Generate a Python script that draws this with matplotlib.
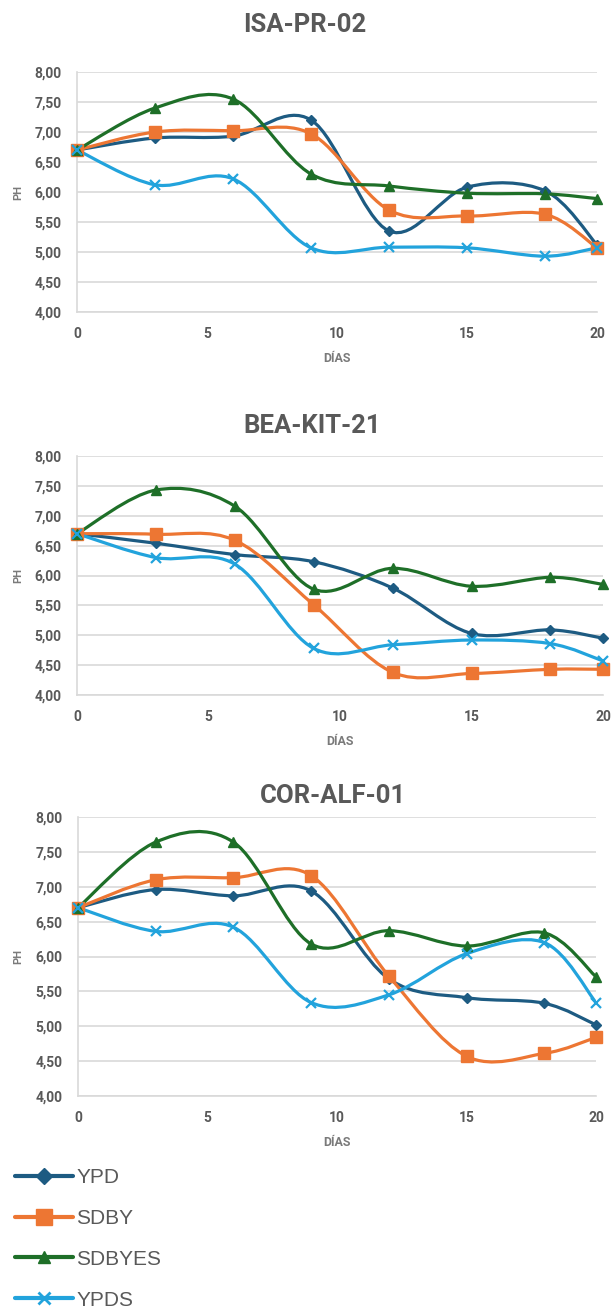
import matplotlib.pyplot as plt
from matplotlib.lines import Line2D
from matplotlib.patches import PathPatch
from matplotlib.path import Path

days = [0, 3, 6, 9, 12, 15, 18, 20]
series_names = ["YPD", "SDBY", "SDBYES", "YPDS"]

isa_ypd = [6.70, 6.90, 6.93, 7.20, 5.35, 6.08, 6.02, 5.12]
isa_sdby = [6.70, 7.00, 7.02, 6.97, 5.70, 5.60, 5.63, 5.07]
isa_sdbyes = [6.70, 7.40, 7.55, 6.30, 6.10, 5.98, 5.97, 5.89]
isa_ypds = [6.70, 6.12, 6.22, 5.07, 5.08, 5.07, 4.93, 5.07]

bea_ypd = [6.70, 6.54, 6.35, 6.23, 5.79, 5.03, 5.09, 4.95]
bea_sdby = [6.70, 6.69, 6.59, 5.51, 4.38, 4.36, 4.43, 4.43]
bea_sdbyes = [6.70, 7.43, 7.16, 5.77, 6.12, 5.82, 5.97, 5.85]
bea_ypds = [6.70, 6.30, 6.19, 4.78, 4.84, 4.92, 4.86, 4.57]

cor_ypd = [6.70, 6.96, 6.87, 6.94, 5.68, 5.41, 5.33, 5.02]
cor_sdby = [6.70, 7.10, 7.13, 7.16, 5.72, 4.57, 4.61, 4.84]
cor_sdbyes = [6.70, 7.64, 7.64, 6.18, 6.37, 6.15, 6.34, 5.71]
cor_ypds = [6.70, 6.36, 6.42, 5.34, 5.45, 6.04, 6.20, 5.34]

y_ticks = [4.0, 4.5, 5.0, 5.5, 6.0, 6.5, 7.0, 7.5, 8.0]
y_tick_labels = ["4,00", "4,50", "5,00", "5,50", "6,00", "6,50", "7,00", "7,50", "8,00"]
x_ticks = [0, 5, 10, 15, 20]

W, H = 616, 1310
TEXT = "#595959"
GRID = "#d9d9d9"

styles = {
    "YPD": dict(color="#1d5b82", marker="D", ms=5.5),
    "SDBY": dict(color="#ed7633", marker="s", ms=8),
    "SDBYES": dict(color="#1e6f28", marker="^", ms=7.5),
    "YPDS": dict(color="#22a3dc", marker="x", ms=7),
}

# (title, data, axes box in pixels: left, top, right, bottom, title centre x, title baseline y)
panels = [
    ("ISA-PR-02", [isa_ypd, isa_sdby, isa_sdbyes, isa_ypds], (77, 72, 597, 312), (305, 32)),
    ("BEA-KIT-21", [bea_ypd, bea_sdby, bea_sdbyes, bea_ypds], (77, 456, 603, 695), (312, 433)),
    ("COR-ALF-01", [cor_ypd, cor_sdby, cor_sdbyes, cor_ypds], (78, 817, 596, 1096), (333, 803)),
]


def smooth_path(xs, ys, t=1 / 6):
    # Bezier curve through the points, like a spreadsheet "smoothed line"
    pts = list(zip(xs, ys))
    n = len(pts)
    verts = [pts[0]]
    codes = [Path.MOVETO]
    for i in range(n - 1):
        p0 = pts[max(i - 1, 0)]
        p1 = pts[i]
        p2 = pts[i + 1]
        p3 = pts[min(i + 2, n - 1)]
        c1 = (p1[0] + (p2[0] - p0[0]) * t, p1[1] + (p2[1] - p0[1]) * t)
        c2 = (p2[0] - (p3[0] - p1[0]) * t, p2[1] - (p3[1] - p1[1]) * t)
        verts += [c1, c2, p2]
        codes += [Path.CURVE4] * 3
    return Path(verts, codes)


plt.rcParams["font.family"] = ["Roboto", "DejaVu Sans"]
fig = plt.figure(figsize=(W / 100, H / 100), dpi=100)
fig.patch.set_facecolor("white")

for title, data, (l, t, r, b), (tx, ty) in panels:
    ax = fig.add_axes([l / W, 1 - b / H, (r - l) / W, (b - t) / H])
    for name, vals in zip(series_names, data):
        st = styles[name]
        ax.add_patch(PathPatch(smooth_path(days, vals), fill=False,
                               edgecolor=st["color"], lw=2.3,
                               capstyle="round", joinstyle="round", zorder=3))
        ax.plot(days, vals, linestyle="none", marker=st["marker"],
                markersize=st["ms"], color=st["color"],
                markeredgecolor=st["color"],
                markeredgewidth=1.6 if st["marker"] == "x" else 1.0,
                clip_on=False, zorder=4)

    ax.set_xlim(0, 20)
    ax.set_ylim(4, 8)
    ax.set_xticks(x_ticks)
    ax.set_yticks(y_ticks)
    ax.set_yticklabels(y_tick_labels)
    ax.tick_params(length=0, labelsize=10, colors=TEXT)
    ax.tick_params(axis="y", pad=11)
    ax.tick_params(axis="x", pad=10.5)
    for lab in ax.get_xticklabels() + ax.get_yticklabels():
        lab.set_fontweight("bold")
    ax.grid(axis="y", color=GRID, lw=1.2, zorder=0)
    ax.set_axisbelow(True)
    for side in ["top", "right"]:
        ax.spines[side].set_visible(False)
    for side in ["left", "bottom"]:
        ax.spines[side].set_color(GRID)
        ax.spines[side].set_linewidth(1.2)

    # axis titles: DÍAS 46 px below the axes, PH at x = 18 px
    ax.set_xlabel("DÍAS", fontsize=9, fontweight="bold", color="#7a7a7a")
    ax.xaxis.set_label_coords(0.5, -46 / (b - t))
    ax.xaxis.label.set_va("center")
    ax.set_ylabel("PH", fontsize=8, fontweight="bold", color="#7a7a7a")
    ax.yaxis.set_label_coords(-(l - 18) / (r - l), 0.5)
    ax.yaxis.label.set_va("center")

    fig.text(tx / W, 1 - ty / H, title, ha="center", va="baseline",
             fontsize=18.5, fontweight="bold", color=TEXT)

legend_ms = {"YPD": 8, "SDBY": 11, "SDBYES": 9, "YPDS": 9}
handles = [
    Line2D([], [], color=styles[n]["color"], lw=3, marker=styles[n]["marker"],
           markersize=legend_ms[n], markeredgewidth=2 if n == "YPDS" else 1,
           solid_capstyle="round")
    for n in series_names
]
fig.legend(handles, series_names, loc="upper left",
           bbox_to_anchor=(15 / W, 1 - 1168 / H), frameon=False,
           prop={"family": "Liberation Sans", "size": 15}, labelcolor=TEXT,
           handlelength=2.8, handletextpad=0.15, labelspacing=1.05,
           borderpad=0, borderaxespad=0)

fig.savefig("out.png", dpi=100, facecolor="white")
